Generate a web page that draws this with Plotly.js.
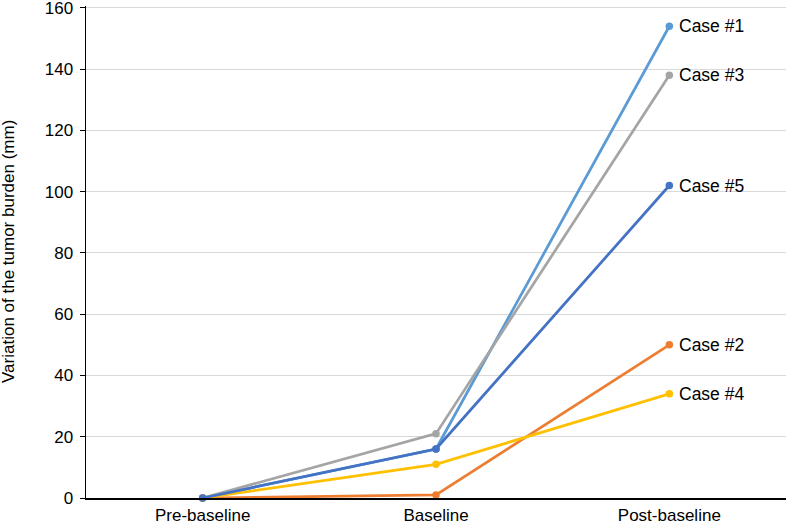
<!DOCTYPE html>
<html>
<head>
<meta charset="utf-8">
<script src="https://cdn.plot.ly/plotly-3.0.1.min.js"></script>
<style>html,body{margin:0;padding:0;background:#fff;}#chart{width:786px;height:526px;}</style>
</head>
<body>
<div id="chart"></div>
<script>
const categories = ["Pre-baseline", "Baseline", "Post-baseline"];
const seriesNames = ["Case #1", "Case #2", "Case #3", "Case #4", "Case #5"];
const case1 = [0, 16, 154];
const case2 = [0, 1, 50];
const case3 = [0, 21, 138];
const case4 = [0, 11, 34];
const case5 = [0, 16, 102];
const seriesValues = [case1, case2, case3, case4, case5];
const seriesColors = ["#5B9BD5", "#ED7D31", "#A5A5A5", "#FFC000", "#4472C4"];
const yTicks = [0, 20, 40, 60, 80, 100, 120, 140, 160];
const yTitle = "Variation of the tumor burden (mm)";

const FONT = "Liberation Sans, Arial, Helvetica, sans-serif";

const traces = seriesValues.map((vals, i) => ({
  x: categories,
  y: vals,
  type: "scatter",
  mode: "lines+markers",
  name: seriesNames[i],
  line: {color: seriesColors[i], width: 2.75},
  marker: {color: seriesColors[i], size: 7.5},
  cliponaxis: false,
  hoverinfo: "none"
}));

const annotations = seriesValues.map((vals, i) => ({
  x: categories[categories.length - 1],
  y: vals[vals.length - 1],
  xref: "x", yref: "y",
  text: seriesNames[i],
  showarrow: false,
  xanchor: "left",
  yanchor: "middle",
  xshift: 8,
  font: {family: FONT, size: 17.5, color: "#000"}
}));

annotations.push({
  xref: "paper", yref: "paper",
  x: 0, y: 0.5,
  xanchor: "center", yanchor: "middle",
  xshift: -78,
  textangle: -90,
  showarrow: false,
  text: yTitle,
  font: {family: FONT, size: 17, color: "#000"}
});

const layout = {
  width: 786, height: 526,
  margin: {l: 86, r: 0, t: 6, b: 28},
  paper_bgcolor: "#fff", plot_bgcolor: "#fff",
  showlegend: false,
  font: {family: FONT, size: 17, color: "#000"},
  xaxis: {
    type: "category",
    range: [-0.5, 2.5],
    showgrid: false,
    showline: true, linecolor: "#000", linewidth: 1.5,
    ticks: "", tickfont: {size: 17},
    ticklabelstandoff: 1,
    ticklabeloverflow: "allow",
    zeroline: false,
    automargin: false
  },
  yaxis: {
    range: [0, 160.6],
    tickvals: yTicks,
    showgrid: true, gridcolor: "#D9D9D9", gridwidth: 1,
    showline: true, linecolor: "#000", linewidth: 1.5,
    ticks: "outside", ticklen: 5, tickcolor: "#000", tickwidth: 1,
    tickfont: {size: 17},
    ticklabelstandoff: 3,
    ticklabeloverflow: "allow",
    zeroline: false,
    automargin: false
  },
  annotations: annotations
};

Plotly.newPlot("chart", traces, layout, {displayModeBar: false, staticPlot: true});
</script>
</body>
</html>
